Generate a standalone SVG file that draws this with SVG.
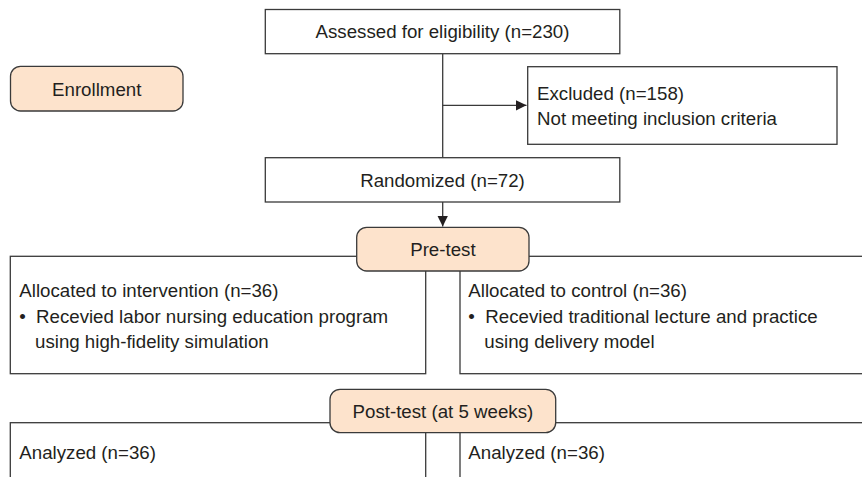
<svg xmlns="http://www.w3.org/2000/svg" width="862" height="477" viewBox="0 0 862 477">
<style>
.box{fill:#ffffff;stroke:#3a3a3a;stroke-width:1.3}
.stage{fill:#fde3cc;stroke:#3a3a3a;stroke-width:1.3}
.t{font-family:"Liberation Sans",Arial,sans-serif;font-size:18.7px;fill:#231f20}
.c{text-anchor:middle}
.line{fill:none;stroke:#3a3a3a;stroke-width:1.3}
</style>
<defs>
<marker id="arr" markerUnits="userSpaceOnUse" markerWidth="12" markerHeight="12" viewBox="0 0 12 12" refX="11" refY="6" orient="auto">
<path d="M0,0.6 L11,6 L0,11.4 Z" fill="#231f20"/>
</marker>
</defs>
<rect width="862" height="477" fill="#ffffff"/>
<g id="connectors">
<path class="line" d="M442.7,53.7 V157.7"/>
<path class="line" d="M442.7,105.3 H526.5" marker-end="url(#arr)"/>
<path class="line" d="M442.7,202 V226.5" marker-end="url(#arr)"/>
</g>
<g id="enrollment">
<rect class="stage" x="10.5" y="66.3" width="172.5" height="44.7" rx="10"/>
<text class="t c" x="96.7" y="95.5">Enrollment</text>
</g>
<g id="assessed">
<rect class="box" x="265.3" y="9.5" width="354.5" height="44.2"/>
<text class="t c" x="442.5" y="38.2">Assessed for eligibility (n=230)</text>
</g>
<g id="excluded">
<rect class="box" x="527.7" y="66.7" width="309.3" height="77.6"/>
<text class="t" x="537" y="100">Excluded (n=158)</text>
<text class="t" x="537" y="125">Not meeting inclusion criteria</text>
</g>
<g id="randomized">
<rect class="box" x="265.3" y="157.7" width="354.5" height="44.3"/>
<text class="t c" x="442.5" y="186.5">Randomized (n=72)</text>
</g>
<g id="intervention">
<rect class="box" x="10.3" y="256.3" width="415.4" height="117.4"/>
<text class="t" x="19.3" y="297">Allocated to intervention (n=36)</text>
<text class="t" x="19.3" y="322.5">•</text>
<text class="t" x="36" y="322.5">Recevied labor nursing education program</text>
<text class="t" x="35" y="348">using high-fidelity simulation</text>
</g>
<g id="control">
<rect class="box" x="460" y="256.3" width="420" height="117.4"/>
<text class="t" x="468.3" y="297">Allocated to control (n=36)</text>
<text class="t" x="468.3" y="322.5">•</text>
<text class="t" x="485.3" y="322.5">Recevied traditional lecture and practice</text>
<text class="t" x="484.3" y="348">using delivery model</text>
</g>
<g id="pretest">
<rect class="stage" x="356.7" y="227.3" width="172.3" height="43.7" rx="10"/>
<text class="t c" x="442.9" y="256">Pre-test</text>
</g>
<g id="analyzed-intervention">
<rect class="box" x="10.3" y="422.7" width="415.4" height="80"/>
<text class="t" x="19.3" y="458.7">Analyzed (n=36)</text>
</g>
<g id="analyzed-control">
<rect class="box" x="460" y="422.7" width="420" height="80"/>
<text class="t" x="468.3" y="458.7">Analyzed (n=36)</text>
</g>
<g id="posttest">
<rect class="stage" x="330" y="389.3" width="225.7" height="43.4" rx="10"/>
<text class="t c" x="442.9" y="418">Post-test (at 5 weeks)</text>
</g>
</svg>
